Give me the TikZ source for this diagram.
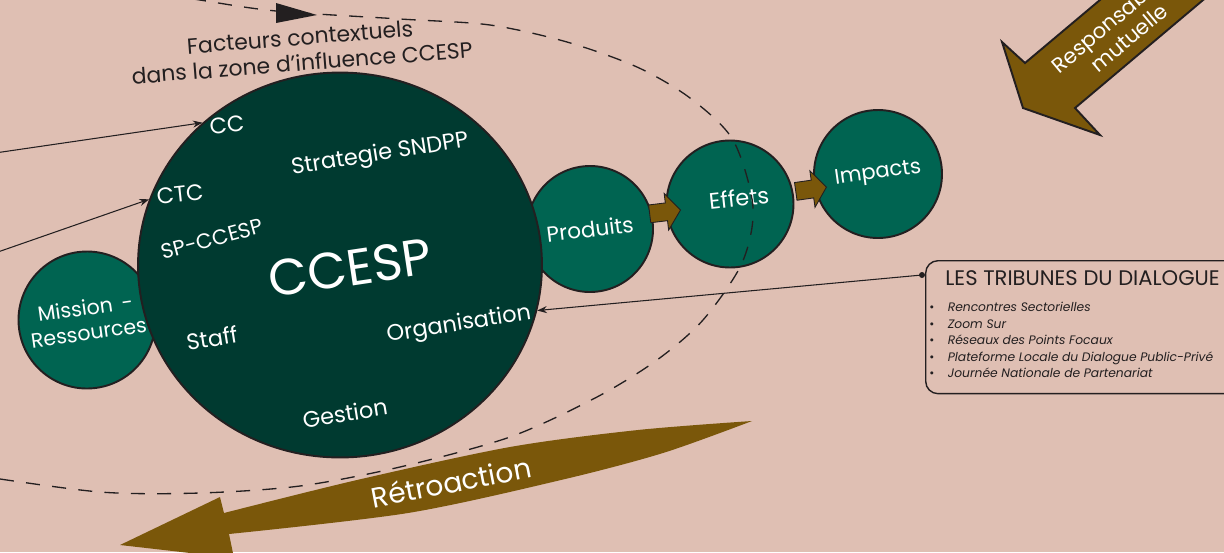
\documentclass[tikz,border=0pt]{standalone}
\usepackage{fontspec}
\setmainfont{Poppins}
\usetikzlibrary{shapes.geometric,shapes.arrows,arrows.meta}

\definecolor{fond}{RGB}{223,191,179}
\definecolor{vertfonce}{RGB}{0,58,48}
\definecolor{vert}{RGB}{0,100,81}
\definecolor{brun}{RGB}{122,87,10}
\definecolor{encre}{RGB}{35,31,32}

\tikzset{
  bulle/.style={circle, draw=encre, line width=1.1pt, fill=vert, text=white,
    inner sep=0pt, align=center, font=\fontsize{12.3}{14}\selectfont},
  blanc/.style={text=white, inner sep=0pt, font=\fontsize{12.8}{15}\selectfont},
  fleche/.style={->, encre, line width=0.6pt},
  relais/.style={single arrow, draw=encre, line width=0.5pt, fill=brun,
    inner xsep=0pt, inner ysep=0.17cm, single arrow head extend=0.19cm,
    single arrow tip angle=105, minimum height=0.62cm, anchor=tip},
  pointille/.style={encre, line width=0.75pt, dash pattern=on 8pt off 7pt},
}

\begin{document}
\begin{tikzpicture}[x=0.02cm, y=-0.02cm, >={Stealth[length=5.5pt,width=4pt]}]
    % 1. 背景
    \useasboundingbox (0,0) rectangle (1224,552);
    \fill[fond] (0,0) rectangle (1224,552);
    \clip (0,0) rectangle (1224,552);

    % 2. 圆
    \node[bulle, minimum size=2.74cm, rotate=8, font=\fontsize{11.7}{14.2}\selectfont]
        (mission) at (87,320) {Mission\ \,-\\Ressources};
    \node[bulle, minimum size=2.52cm, rotate=7] (produits) at (590,229) {Produits};
    \node[ellipse, draw=encre, fill=vertfonce, line width=1.1pt, inner sep=0pt,
          minimum width=8.08cm, minimum height=7.7cm] (ccesp) at (340,265) {};
    \node[bulle, minimum size=2.54cm] (effets) at (730,204) {};
    \node[blanc, rotate=6] (effetsTxt) at (739,198) {Effets};
    \node[bulle, minimum size=2.56cm, rotate=8, font=\fontsize{12}{14}\selectfont]
        (impacts) at (878,174) {Impacts};

    \node[relais, rotate=7] (pe) at (681,210) {};
    \node[relais, rotate=8] (ei) at (827,187) {};

    % 3. CCESP 内部文字
    \node[blanc, rotate=5] (cc) at (227,125) {CC};
    \node[blanc, rotate=6] (ctc) at (180,194) {CTC};
    \node[blanc, rotate=15, font=\fontsize{12}{14}\selectfont] (spccesp) at (212,239) {SP-CCESP};
    \node[blanc, rotate=9] (strat) at (380,155) {Strategie SNDPP};
    \node[blanc, rotate=8.5, font=\fontsize{29}{32}\selectfont] (titre) at (350,268) {CCESP};
    \node[blanc, rotate=9] (staff) at (212,338) {Staff};
    \node[blanc, rotate=9] (orga) at (459,325) {Organisation};
    \node[blanc, rotate=9] (gestion) at (345,413) {Gestion};

    % 4. 虚线影响区
    \draw[pointille] plot[smooth] coordinates {
        (140,-10) (200,0) (276,11) (400,19) (490,25) (567,42) (637,67) (690,98)
        (733,140) (753,207) (742,263) (703,320) (657,360) (597,397) (510,437)
        (400,467) (300,486) (200,493) (100,492) (-20,476)
    };
    \fill[encre] (276,3) -- (317,15) -- (276,23) -- cycle;
    \node[text=encre, inner sep=0pt, align=center, rotate=4.5,
          font=\fontsize{12.5}{14.7}\selectfont] (contexte) at (301,50)
          {Facteurs contextuels\\dans la zone d’influence CCESP};

    % 5. 细箭头
    \coordinate (srcCC) at (-5,153);
    \coordinate (srcCTC) at (-5,253);
    \draw[fleche] (srcCC) -- (ccesp.134.6);
    \draw[fleche] (srcCTC) -- (ccesp.161.5);

    % 6. 对话论坛
    \node[draw=encre, line width=0.8pt, rounded corners=7pt, anchor=north west,
          minimum width=6.4cm, minimum height=2.66cm] (tribunes) at (925,260) {};
    \node[text=encre, inner sep=0pt, anchor=west, font=\fontsize{12}{14}\selectfont]
          (tribtitre) at (945,278) {LES TRIBUNES DU DIALOGUE};
    \node[text=encre, inner sep=0pt, anchor=north west, align=left,
          font=\fontsize{7}{9.35}\selectfont] (tribliste) at (929,302) {%
        \makebox[10.5pt][l]{\textbullet}\textit{Rencontres Sectorielles}\\
        \makebox[10.5pt][l]{\textbullet}\textit{Zoom Sur}\\
        \makebox[10.5pt][l]{\textbullet}\textit{Réseaux des Points Focaux}\\
        \makebox[10.5pt][l]{\textbullet}\textit{Plateforme Locale du Dialogue Public-Privé}\\
        \makebox[10.5pt][l]{\textbullet}\textit{Journée Nationale de Partenariat}};
    \coordinate (dot) at (922,275);
    \fill[encre] (dot) circle (3);
    \draw[fleche] (dot) -- (ccesp.-13.6);

    % 7. 反馈与相互问责
    \fill[brun] plot[smooth] coordinates {(752,421) (638,430) (510,447) (357,480) (224,513)}
        -- (220,497) -- (120,545) -- (234,558)
        -- plot[smooth] coordinates {(229,534) (408,513) (561,480) (663,453) (752,421)} -- cycle;
    \node[blanc, rotate=11, font=\fontsize{16}{18}\selectfont] (retro) at (451,482) {Rétroaction};

    \filldraw[fill=brun, draw=encre, line width=1.1pt]
        (1023,108) -- (1002,42) -- (1025,63) -- (1163,-53) -- (1228,-21)
        -- (1075,108) -- (1100,135) -- cycle;
    \node[blanc, rotate=40, align=center, font=\fontsize{12}{14}\selectfont]
        (respo) at (1121,28) {Responsabilité\\mutuelle};
\end{tikzpicture}
\end{document}
